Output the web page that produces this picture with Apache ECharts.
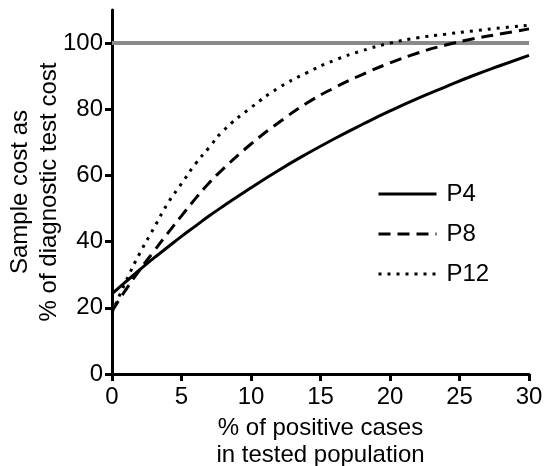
<!DOCTYPE html>
<html>
<head>
<meta charset="utf-8">
<script src="https://cdn.jsdelivr.net/npm/echarts@6/dist/echarts.min.js"></script>
<style>
  html, body { margin: 0; padding: 0; background: #fff; }
  #chart { width: 544px; height: 466px; }
</style>
</head>
<body>
<div id="chart"></div>
<script>
// % of positive cases in tested population
const positives = [0, 1, 2, 3, 4, 5, 6, 7, 8, 10, 12, 14, 16, 18, 20, 22, 24, 26, 28, 30];
// sample cost as % of diagnostic test cost
const p4 = [24.2, 27.9, 31.5, 35, 38.3, 41.6, 44.7, 47.8, 50.7, 56.3, 61.6, 66.5, 71.1, 75.4, 79.5, 83.3, 86.8, 90.2, 93.3, 96.3];
const p8 = [19, 25.5, 31.5, 37, 42.5, 47.8, 53, 57.8, 62, 69.5, 76, 81.8, 86.5, 90.5, 94, 97, 99.4, 101.3, 102.8, 104.3];
const p12 = [18.5, 28, 36.5, 44, 51.5, 57.5, 63.5, 68.5, 73.5, 80.5, 86.5, 91, 94.8, 97.7, 100, 101.6, 102.7, 103.7, 104.6, 105.4];
const reference = 100;
const yTicks = [0, 20, 40, 60, 80, 100];

const pair = (ys) => positives.map((x, i) => [x, ys[i]]);

const chart = echarts.init(document.getElementById("chart"));

const font = "Liberation Sans, Arial, sans-serif";
const curve = (name, data, type) => ({
  name,
  type: "line",
  data: pair(data),
  smooth: true,
  symbol: "none",
  lineStyle: { color: "#000", width: 3, type, cap: "butt" },
  itemStyle: { color: "#000" },
  z: 3,
});

const option = {
  animation: false,
  grid: { left: 112, right: 15, top: 10, bottom: 92, outerBoundsMode: "none", containLabel: false },
  legend: {
    orient: "vertical",
    left: 372,
    top: 177,
    itemWidth: 58,
    itemHeight: 24,
    itemGap: 16,
    data: ["P4", "P8", "P12"],
    itemStyle: { opacity: 0 },
    lineStyle: { width: 3 },
    textStyle: { fontFamily: font, fontSize: 24, color: "#000", lineHeight: 24, padding: [0, 0, 0, 5] },
  },
  xAxis: {
    type: "value",
    min: 0,
    max: 30,
    interval: 5,
    name: "% of positive cases\nin tested population",
    nameLocation: "middle",
    nameGap: 41,
    nameMoveOverlap: false,
    nameTextStyle: { fontFamily: font, fontSize: 24, color: "#000", lineHeight: 27, verticalAlign: "top" },
    axisLine: { lineStyle: { color: "#000", width: 3 } },
    axisTick: { length: 7, lineStyle: { color: "#000", width: 3 } },
    axisLabel: { fontFamily: font, fontSize: 24, color: "#000", margin: 11 },
    splitLine: { show: false },
  },
  yAxis: {
    type: "value",
    min: 0,
    max: 110,
    interval: 20,
    name: "Sample cost as\n% of diagnostic test cost",
    nameLocation: "middle",
    nameGap: 48,
    nameMoveOverlap: false,
    nameTextStyle: { fontFamily: font, fontSize: 24, color: "#000", lineHeight: 29 },
    axisLine: { show: true, lineStyle: { color: "#000", width: 3 } },
    axisTick: { show: true, length: 7, customValues: yTicks, lineStyle: { color: "#000", width: 3 } },
    axisLabel: { fontFamily: font, fontSize: 24, color: "#000", margin: 9, customValues: yTicks },
    splitLine: { show: false },
  },
  series: [
    {
      name: "reference",
      type: "line",
      data: [[0, reference], [30, reference]],
      symbol: "none",
      lineStyle: { color: "#8a8a8a", width: 4 },
      silent: true,
      z: 2,
    },
    curve("P4", p4, "solid"),
    curve("P8", p8, [12, 7]),
    curve("P12", p12, [3, 6]),
  ],
};

chart.setOption(option);
</script>
</body>
</html>
